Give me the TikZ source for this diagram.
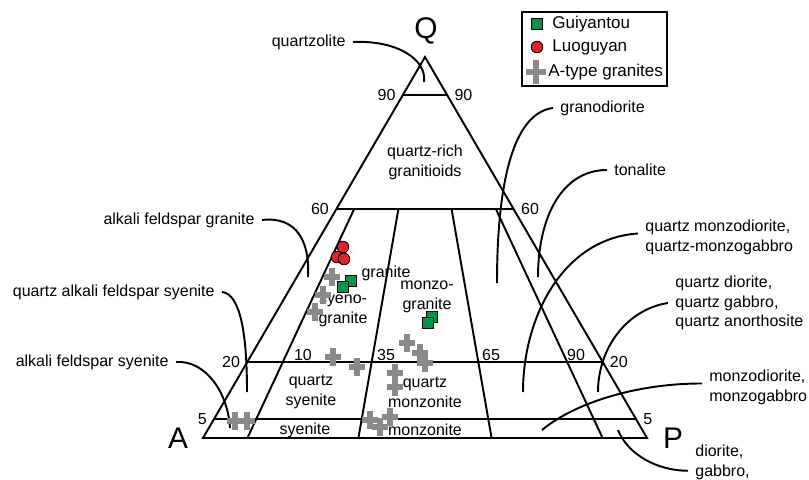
\documentclass[tikz,border=0pt]{standalone}
\usepackage{fontspec}
\setmainfont{Liberation Sans}
\usetikzlibrary{calc}

\definecolor{guigreen}{RGB}{0,150,72}
\definecolor{luored}{RGB}{232,32,36}
\definecolor{atgray}{RGB}{138,138,138}

\tikzset{
    rock/.style={align=center, inner sep=0pt},
    tick/.style={inner sep=0pt},
    leftname/.style={anchor=east, inner xsep=4pt, inner ysep=0pt},
    rightname/.style={anchor=west, align=left, inner xsep=4pt, inner ysep=0pt},
    leader/.style={line width=1.1pt},
    apex/.style={font=\fontsize{17}{20}\selectfont, inner sep=0pt},
    guiyantou/.style={draw, line width=0.6pt, fill=guigreen, minimum size=6.3pt, inner sep=0pt},
    luoguyan/.style={circle, draw, line width=0.5pt, fill=luored, minimum size=6.6pt, inner sep=0pt},
    atype/.pic={\draw[atgray, line width=3.2pt] (-8,0) -- (8,0) (0,-9) -- (0,9);}
}

\begin{document}
\begin{tikzpicture}[x=0.02cm, y=-0.02cm, font=\fontsize{9.1}{11.3}\selectfont]
    \useasboundingbox (0,0) rectangle (809,480);

    % corners of the QAP triangle
    \coordinate (A) at (203,438);
    \coordinate (P) at (647,438);
    \coordinate (Q) at (425,57);
    \node[apex] (Qname) at (426,31) {Q};
    \node[apex] (Aname) at (178,438) {A};
    \node[apex] (Pname) at (673,438) {P};

    \draw[line width=1.1pt] (A) -- (P) -- (Q) -- cycle;

    % lines of constant Q
    \foreach \q/\n in {0.9/90, 0.6/60, 0.2/20, 0.05/5} {
        \draw[line width=1.1pt] ($(A)!\q!(Q)$) -- ($(P)!\q!(Q)$);
        \node[tick, anchor=east, inner xsep=4pt] (ql\n) at ($(A)!\q!(Q)$) {\n};
        \node[tick, anchor=west, inner xsep=4pt] (qr\n) at ($(P)!\q!(Q)$) {\n};
    }

    % lines of constant P/(A+P)
    \foreach \p/\n in {0.1/10, 0.35/35, 0.65/65, 0.9/90} {
        \coordinate (base\n) at ($(A)!\p!(P)$);
        \draw[line width=1.1pt] ($(Q)!0.4!(base\n)$) -- (base\n);
    }
    \node[tick] (r10) at (303,355) {10};
    \node[tick] (r35) at (386,355) {35};
    \node[tick] (r65) at (491,355) {65};
    \node[tick] (r90) at (576,355) {90};

    % fields
    \node[rock] (qrich) at (425,162) {quartz-rich\\granitioids};
    \node[rock] (granite) at (386,273) {granite};
    \node[rock] (syenogr) at (343,311) {syeno-\\granite};
    \node[rock] (monzogr) at (427,297) {monzo-\\granite};
    \node[rock] (qsyen) at (311,392) {quartz\\syenite};
    \node[rock] (qmonz) at (425,392) {quartz\\monzonite};
    \node[rock] (syen) at (305,430) {syenite};
    \node[rock] (monz) at (425,430) {monzonite};

    % names outside, with leaders
    \node[leftname] (quartzolite) at (353,42) {quartzolite};
    \coordinate (quartzolite-end) at (424,82);
    \draw[leader] (quartzolite.east) .. controls +(45,-2) and +(3,-22) .. (quartzolite-end);

    \node[leftname] (afgranite) at (262,220) {alkali feldspar granite};
    \coordinate (afgranite-end) at (308,277);
    \draw[leader] (afgranite.east) .. controls +(35,-4) and +(2,-35) .. (afgranite-end);

    \node[leftname] (qafsyen) at (222,292) {quartz alkali feldspar syenite};
    \coordinate (qafsyen-end) at (247,392);
    \draw[leader] (qafsyen.east) .. controls +(18,2) and +(0,-60) .. (qafsyen-end);

    \node[leftname] (afsyen) at (176,362) {alkali feldspar syenite};
    \coordinate (afsyen-end) at (230,428);
    \draw[leader] (afsyen.east) .. controls +(30,-2) and +(-2,-35) .. (afsyen-end);

    \node[rightname] (granodior) at (553,108) {granodiorite};
    \coordinate (granodior-end) at (497,283);
    \draw[leader] (granodior.west) .. controls +(-40,5) and +(0,-100) .. (granodior-end);

    \node[rightname] (tonalite) at (607,170) {tonalite};
    \coordinate (tonalite-end) at (538,277);
    \draw[leader] (tonalite.west) .. controls +(-45,0) and +(0,-60) .. (tonalite-end);

    \node[rightname] (qmonzodior) at (638,237) {quartz monzodiorite,\\quartz-monzogabbro};
    \coordinate (qmonzodior-end) at (523,392);
    \draw[leader] ([yshift=2pt]qmonzodior.west) .. controls +(-75,5) and +(0,-75) .. (qmonzodior-end);

    \node[rightname] (qdior) at (668,303) {quartz diorite,\\quartz gabbro,\\quartz anorthosite};
    \coordinate (qdior-end) at (598,392);
    \draw[leader] (qdior.west) .. controls +(-40,6) and +(0,-45) .. (qdior-end);

    \node[rightname] (monzodior) at (702,387) {monzodiorite,\\monzogabbro};
    \coordinate (monzodior-end) at (542,430);
    \draw[leader] ([yshift=2pt]monzodior.west) .. controls +(-70,0) and +(30,-25) .. (monzodior-end);

    \node[rightname] (dior) at (688,462) {diorite,\\gabbro,};
    \coordinate (dior-start) at (618,430);
    \draw[leader] (dior-start) .. controls +(10,25) and +(-30,0) .. ([yshift=-5pt]dior.west);

    % A-type granites
    \foreach \x/\y in {332/277, 323/295, 315/312, 333/357, 357/367,
                       407/343, 420/353, 425/363, 395/373, 395/387,
                       370/420, 380/427, 390/417, 235/421, 247/421}
        \pic at (\x,\y) {atype};

    % Guiyantou
    \node[guiyantou] (gy1) at (351,281) {};
    \node[guiyantou] (gy2) at (343,287) {};
    \node[guiyantou] (gy3) at (432,317) {};
    \node[guiyantou] (gy4) at (428,323) {};

    % Luoguyan
    \node[luoguyan] (lg1) at (343,247) {};
    \node[luoguyan] (lg2) at (337,257) {};
    \node[luoguyan] (lg3) at (344,259) {};

    % legend
    \draw[line width=1.1pt] (522,12) rectangle (667,86);
    \begin{scope}[font=\fontsize{9.7}{11.6}\selectfont]
        \node[guiyantou] (keygy) at (537,24) {};
        \node[anchor=west, inner sep=0pt] (keygytext) at (552,24) {Guiyantou};
        \node[luoguyan] (keylg) at (537,47) {};
        \node[anchor=west, inner sep=0pt] (keylgtext) at (552,47) {Luoguyan};
        \pic[scale=1.3] at (536,72) {atype};
        \node[anchor=west, inner sep=0pt] (keyattext) at (548,72) {A-type granites};
    \end{scope}
\end{tikzpicture}
\end{document}
